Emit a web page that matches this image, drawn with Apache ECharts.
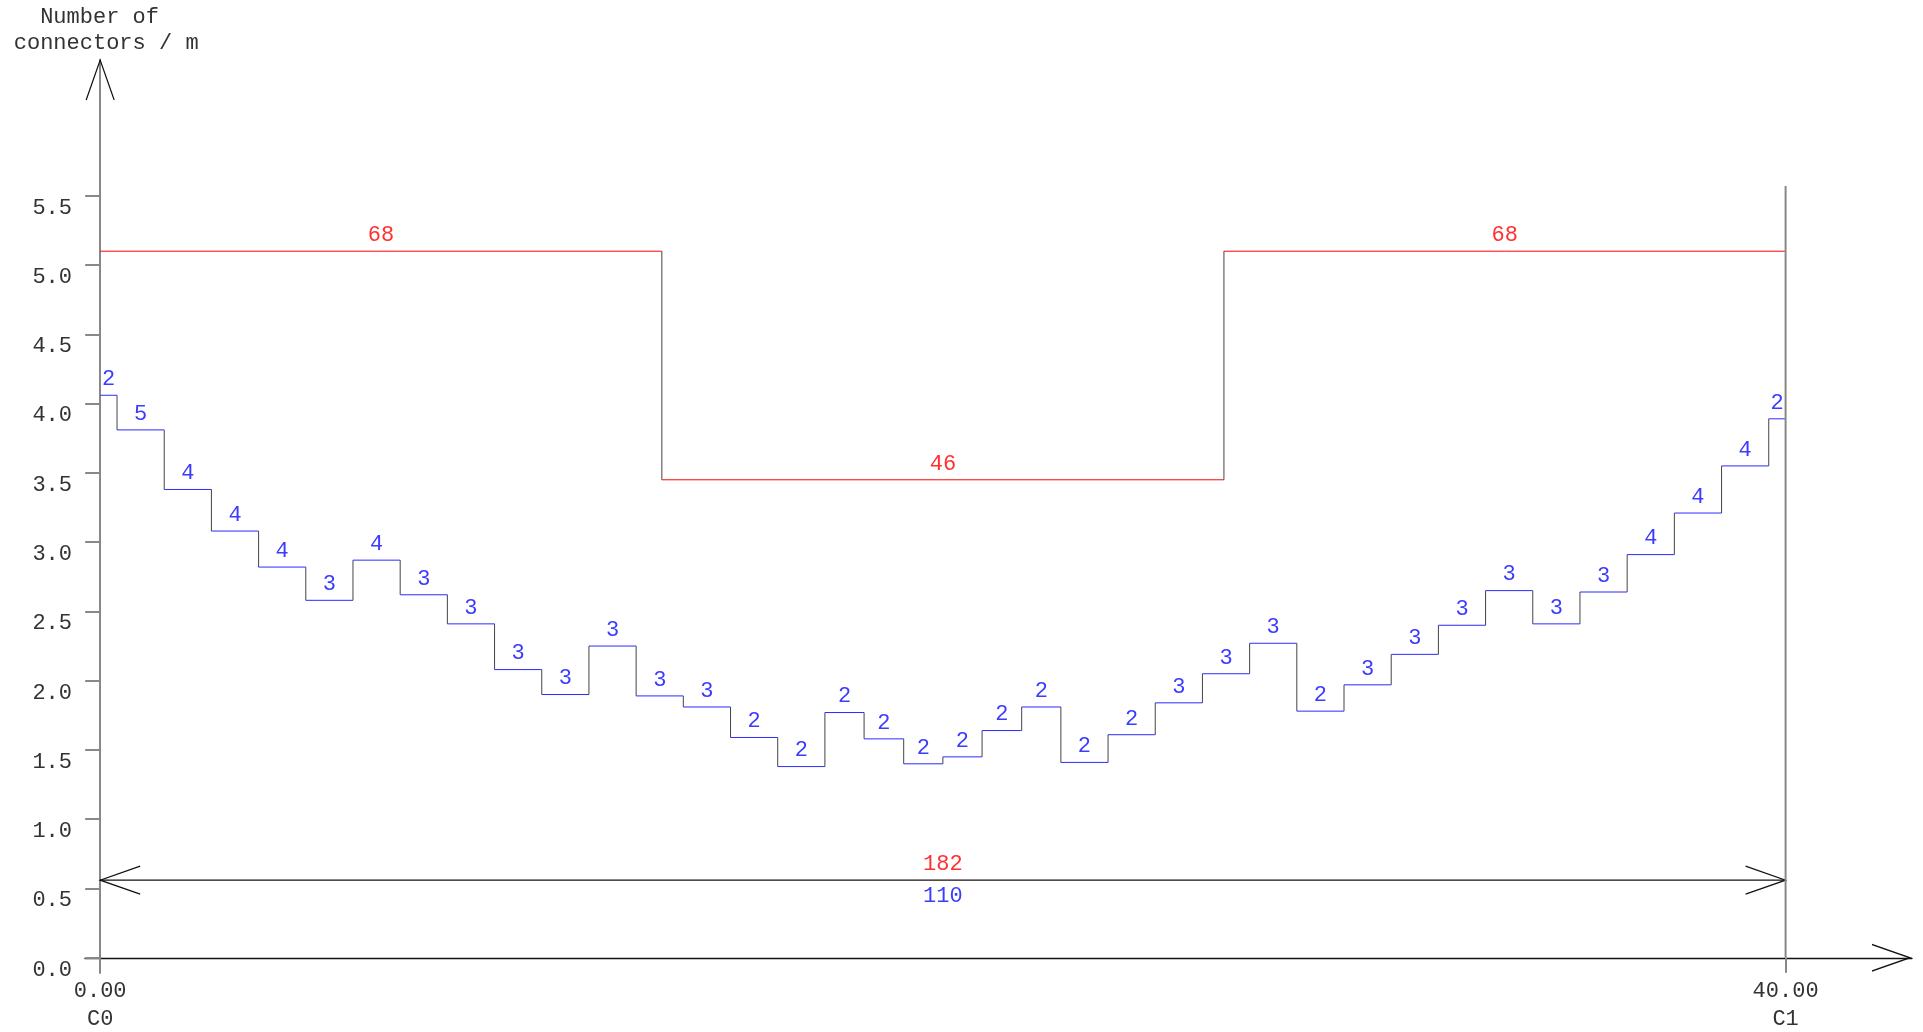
<!DOCTYPE html>
<html>
<head>
<meta charset="utf-8">
<title>Number of connectors / m</title>
<script src="https://cdn.jsdelivr.net/npm/echarts@6.0.0/dist/echarts.min.js"></script>
<style>
  html, body { margin: 0; padding: 0; background: #fff; }
  #chart { width: 1923px; height: 1032px; }
</style>
</head>
<body>
<div id="chart"></div>
<script>
// blue steps: segment edges along the beam (m), connectors per m, connector count
const stepEdges = [0, 0.4, 1.52, 2.64, 3.76, 4.88, 6.0, 7.12, 8.24, 9.36, 10.48, 11.6, 12.72,
  13.84, 14.96, 16.08, 17.2, 18.13, 19.07, 20.0, 20.93, 21.87, 22.8, 23.92, 25.04, 26.16,
  27.28, 28.4, 29.52, 30.64, 31.76, 32.88, 34.0, 35.12, 36.24, 37.36, 38.48, 39.6, 40]
const stepValues = [4.06, 3.81, 3.38, 3.08, 2.82, 2.58, 2.87, 2.62, 2.41, 2.08, 1.90, 2.25, 1.89,
  1.81, 1.59, 1.38, 1.77, 1.58, 1.40, 1.45, 1.64, 1.81, 1.41, 1.61, 1.84, 2.05, 2.27, 1.78,
  1.97, 2.19, 2.40, 2.65, 2.41, 2.64, 2.91, 3.21, 3.55, 3.89]
const stepCounts = [2, 5, 4, 4, 4, 3, 4, 3, 3, 3, 3, 3, 3, 3, 2, 2, 2, 2, 2, 2, 2, 2, 2, 2,
  3, 3, 3, 2, 3, 3, 3, 3, 3, 3, 4, 4, 4, 2]

// red zones
const zoneEdges = [0, 13.33, 26.67, 40]
const zoneValues = [5.1, 3.45, 5.1]
const zoneCounts = [68, 46, 68]

// totals on the dimension line
const totalLevel = 0.56
const totalRed = 182
const totalBlue = 110

// ticks
const yTicks = [0, 0.5, 1.0, 1.5, 2.0, 2.5, 3.0, 3.5, 4.0, 4.5, 5.0, 5.5]
const xTicks = [0, 40]
const xTickNames = ['C0', 'C1']
const endLineTop = 5.57
const yMax = 6.48

const FONT_FAMILY = '"Liberation Mono", "DejaVu Sans Mono", monospace'
const FONT = '22px ' + FONT_FAMILY
const BLUE = '#2b2bff'
const BLUE_TEXT = '#3c3cff'
const RED = '#ff0000'
const RED_TEXT = '#ff3030'
const RISER = '#444'
// open chevron, tip at top
const ARROW = 'path://M0,40 L14,0 L28,40 L26.5,40 L14,4.3 L1.5,40 Z'

function toSegments(edges, values, counts) {
  return values.map((v, i) => [edges[i], edges[i + 1], v, counts[i]])
}

function stepRender(values, lineColor, textColor) {
  return function (params, api) {
    const i = params.dataIndex
    const x0 = api.value(0)
    const x1 = api.value(1)
    const v = api.value(2)
    const a = api.coord([x0, v])
    const b = api.coord([x1, v])
    const kids = [
      { type: 'line', shape: { x1: a[0], y1: a[1], x2: b[0], y2: b[1] },
        style: { stroke: lineColor, lineWidth: 1 } },
      { type: 'text', x: (a[0] + b[0]) / 2, y: a[1] - 16,
        style: { text: String(api.value(3)), fill: textColor, font: FONT,
          align: 'center', verticalAlign: 'middle' } }
    ]
    if (i + 1 < values.length) {
      const c = api.coord([x1, values[i + 1]])
      kids.push({ type: 'line', shape: { x1: b[0], y1: b[1], x2: c[0], y2: c[1] },
        style: { stroke: RISER, lineWidth: 1 } })
    }
    return { type: 'group', children: kids }
  }
}

function dimRender(params, api) {
  const a = api.coord([api.value(0), api.value(2)])
  const b = api.coord([api.value(1), api.value(2)])
  const mid = (a[0] + b[0]) / 2
  const st = { stroke: '#111', lineWidth: 1.2, fill: null }
  return {
    type: 'group',
    children: [
      { type: 'line', shape: { x1: a[0], y1: a[1], x2: b[0], y2: b[1] }, style: st },
      { type: 'polyline', shape: { points: [[a[0] + 40, a[1] - 14], a, [a[0] + 40, a[1] + 14]] }, style: st },
      { type: 'polyline', shape: { points: [[b[0] - 40, b[1] - 14], b, [b[0] - 40, b[1] + 14]] }, style: st },
      { type: 'text', x: mid, y: a[1] - 16,
        style: { text: String(totalRed), fill: RED_TEXT, font: FONT, align: 'center', verticalAlign: 'middle' } },
      { type: 'text', x: mid, y: a[1] + 16,
        style: { text: String(totalBlue), fill: BLUE_TEXT, font: FONT, align: 'center', verticalAlign: 'middle' } }
    ]
  }
}

const chart = echarts.init(document.getElementById('chart'))

const option = {
  backgroundColor: '#fff',
  animation: false,
  grid: { left: 85, right: 11, top: 60, bottom: 59, containLabel: false, outerBoundsMode: 'none' },
  xAxis: {
    type: 'value',
    min: -0.36,
    max: 43,
    splitLine: { show: false },
    axisLine: {
      onZero: true,
      symbol: ['none', ARROW],
      symbolSize: [28, 40],
      symbolOffset: [0, -20],
      lineStyle: { color: '#111', width: 1.3 }
    },
    axisTick: { customValues: xTicks, length: 15, lineStyle: { color: '#888', width: 2 } },
    axisLabel: {
      customValues: xTicks,
      margin: 4,
      color: '#333',
      fontFamily: FONT_FAMILY,
      fontSize: 22,
      lineHeight: 28,
      formatter: function (v) {
        return v.toFixed(2) + '\n' + xTickNames[xTicks.indexOf(v)]
      }
    }
  },
  yAxis: {
    type: 'value',
    min: -0.11,
    max: yMax,
    splitLine: { show: false },
    name: 'Number of \nconnectors / m',
    nameLocation: 'end',
    nameGap: 4,
    nameTextStyle: {
      color: '#333', fontFamily: FONT_FAMILY, fontSize: 22, lineHeight: 26,
      align: 'center', padding: [0, 0, 0, 12]
    },
    axisLine: {
      onZero: true,
      lineStyle: { color: '#888', width: 2 }
    },
    axisTick: { customValues: yTicks, length: 15, lineStyle: { color: '#888', width: 2 } },
    axisLabel: {
      customValues: yTicks,
      margin: 13,
      color: '#333',
      fontFamily: FONT_FAMILY,
      fontSize: 22,
      lineHeight: 24,
      verticalAlign: 'top',
      formatter: v => v.toFixed(1)
    }
  },
  series: [
    {
      // end support line at C1
      type: 'line',
      silent: true,
      symbol: 'none',
      lineStyle: { color: '#888', width: 2 },
      data: [[xTicks[1], 0], [xTicks[1], endLineTop]]
    },
    {
      type: 'custom',
      silent: true,
      renderItem: stepRender(zoneValues, RED, RED_TEXT),
      encode: { x: [0, 1], y: 2 },
      data: toSegments(zoneEdges, zoneValues, zoneCounts)
    },
    {
      type: 'custom',
      silent: true,
      renderItem: stepRender(stepValues, BLUE, BLUE_TEXT),
      encode: { x: [0, 1], y: 2 },
      data: toSegments(stepEdges, stepValues, stepCounts)
    },
    {
      type: 'custom',
      silent: true,
      renderItem: dimRender,
      encode: { x: [0, 1], y: 2 },
      data: [[xTicks[0], xTicks[1], totalLevel]]
    }
  ]
}

chart.setOption(option)

// black open arrow head on top of the y axis
const tip = chart.convertToPixel({ gridIndex: 0 }, [0, yMax])
chart.setOption({
  graphic: [{
    type: 'polyline',
    silent: true,
    z: 10,
    shape: { points: [[tip[0] - 14, tip[1] + 40], tip, [tip[0] + 14, tip[1] + 40]] },
    style: { stroke: '#111', lineWidth: 1.2, fill: null }
  }]
})
</script>
</body>
</html>
